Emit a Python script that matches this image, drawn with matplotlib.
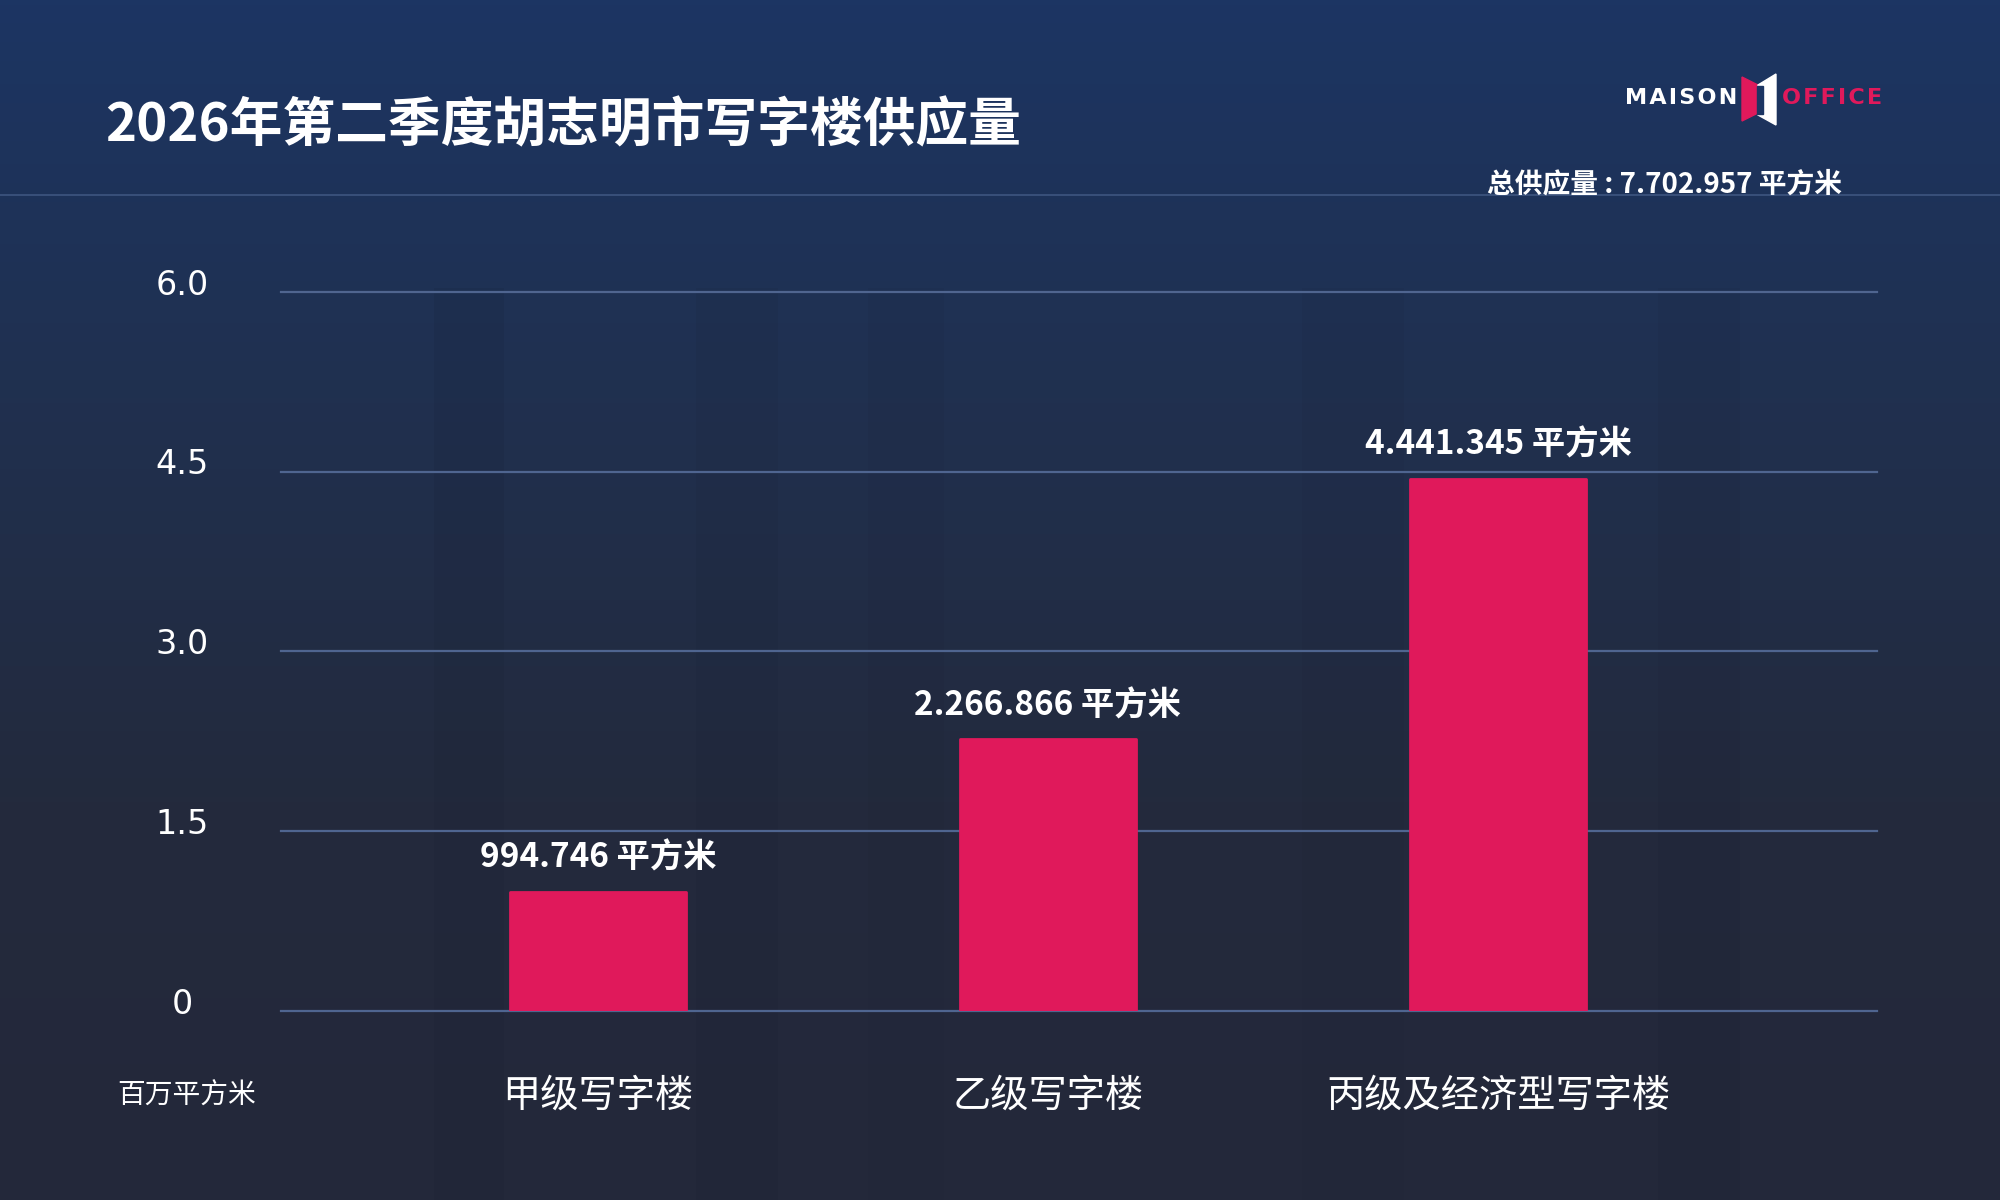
import matplotlib.pyplot as plt
import numpy as np
from matplotlib.colors import LinearSegmentedColormap
from matplotlib.patches import Polygon

# data (square metres)
categories = ['甲级写字楼', '乙级写字楼', '丙级及经济型写字楼']
supply_m2 = [994746, 2266866, 4441345]
y_ticks = [0, 1.5, 3.0, 4.5, 6.0]
y_tick_labels = ['0', '1.5', '3.0', '4.5', '6.0']

title = '2026年第二季度胡志明市写字楼供应量'
unit_label = '百万平方米'

cjk = ['Noto Sans CJK SC', 'DejaVu Sans']
plt.rcParams['font.family'] = cjk

pink = '#E0195B'
grid_col = '#4F6590'


def fmt(v):
    return f'{v:,}'.replace(',', '.') + ' 平方米'


fig = plt.figure(figsize=(20, 12), dpi=100)

# background gradient
bg = fig.add_axes([0, 0, 1, 1], zorder=-10)
cmap = LinearSegmentedColormap.from_list('bg', ['#1C3563', '#20304F', '#232A3D', '#23283A'])
grad = np.linspace(0, 1, 256).reshape(-1, 1)
bg.imshow(grad, aspect='auto', cmap=cmap, extent=[0, 1, 0, 1], origin='upper')
# faint vertical bands
for x0, w, a in [(0.217, 0.035, 0.10), (0.348, 0.041, 0.08), (0.434, 0.038, 0.06),
                 (0.651, 0.051, 0.06), (0.829, 0.041, 0.07)]:
    bg.axvspan(x0, x0 + w, ymin=0.0, ymax=0.76, color='#14192a', alpha=a, lw=0)
bg.set_xlim(0, 1)
bg.set_ylim(0, 1)
bg.axis('off')

ax = fig.add_axes([0.1405, 0.1575, 0.798, 0.5992])
ax.set_facecolor('none')

values = [v / 1e6 for v in supply_m2]
x = np.arange(len(categories))
for yt in y_ticks:
    ax.axhline(yt, color=grid_col, lw=1.6, zorder=1, clip_on=False)

bars = ax.bar(x, values, width=0.39, color=pink, edgecolor=pink, linewidth=2,
              joinstyle='round', zorder=3)

for xi, v, raw in zip(x, values, supply_m2):
    ax.annotate(fmt(raw), (xi, v), xytext=(0, 24), textcoords='offset points',
                ha='center', va='center', color='white', fontsize=24,
                fontweight='bold')

ax.set_xlim(-0.704, 2.842)
ax.set_ylim(0, 6)
ax.set_yticks([])
ax.set_xticks(x, categories)
ax.tick_params(axis='x', length=0, pad=47, labelsize=27.5, labelcolor='white')
for s in ax.spines.values():
    s.set_visible(False)

for yt, lab in zip(y_ticks, y_tick_labels):
    ax.annotate(lab, (0, yt), xycoords=ax.get_yaxis_transform(),
                xytext=(-71, 5), textcoords='offset points',
                ha='center', va='center', color='white', fontsize=24,
                family='DejaVu Sans')

fig.text(0.0935, 0.087, unit_label, ha='center', va='center', color='white',
         fontsize=20)

# header
fig.text(0.0525, 0.895, title, ha='left', va='center', color='white',
         fontsize=38, fontweight='bold')
fig.add_artist(plt.Line2D([0, 1], [0.8375, 0.8375], color='#3E5680', lw=1.2))
fig.text(0.921, 0.846, '总供应量 : ' + fmt(sum(supply_m2)), ha='right', va='center',
         color='white', fontsize=20, fontweight='bold')

# logo
fig.text(0.8685, 0.918, 'M\u200aA\u200aI\u200aS\u200aO\u200aN', ha='right', va='center',
         color='white', fontsize=16, fontweight='bold', family='DejaVu Sans')
fig.text(0.891, 0.918, 'O\u200aF\u200aF\u200aI\u200aC\u200aE', ha='left', va='center',
         color=pink, fontsize=16, fontweight='bold', family='DejaVu Sans')


def px(xp, yp):
    return (xp / 2000, 1 - yp / 1200)


fig.add_artist(Polygon([px(1742, 77), px(1758, 85), px(1758, 113), px(1742, 121)],
                       closed=True, color=pink, transform=fig.transFigure))
fig.add_artist(Polygon([px(1758, 85), px(1776, 74), px(1776, 125), px(1758, 115)],
                       closed=True, color='white', transform=fig.transFigure))
fig.add_artist(Polygon([px(1757, 86), px(1763, 86), px(1763, 114), px(1757, 114)],
                       closed=True, color='#1C3563', transform=fig.transFigure))

fig.savefig('out.png', dpi=100)
